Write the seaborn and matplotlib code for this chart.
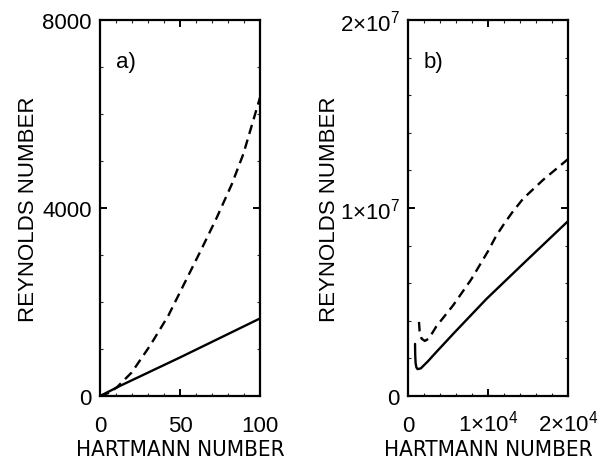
import matplotlib
matplotlib.use('Agg')
import matplotlib.pyplot as plt
from matplotlib import font_manager
from matplotlib.ticker import MultipleLocator
import pandas as pd
import seaborn as sns

# panel a) values
hart_a_solid = [0, 12.5, 50, 100]
reyn_a_solid = [0, 215, 820, 1650]
hart_a_dash = [0, 5, 10.4, 19.8, 31.25, 42.7, 53.1, 63.5, 72.9, 82.3, 89.6, 100]
reyn_a_dash = [0, 60, 180, 500, 1070, 1710, 2420, 3130, 3790, 4500, 5150, 6350]

# panel b)
hart_b_solid = [880, 900, 950, 1050, 1200, 1600, 2500, 3500, 5750, 9800, 14800, 20000]
reyn_b_solid = [2.77e6, 2.2e6, 1.75e6, 1.52e6, 1.43e6, 1.47e6, 1.85e6, 2.32e6, 3.35e6, 5.16e6, 7.2e6, 9.3e6]
hart_b_dash = [1375, 1450, 1700, 2100, 2600, 3540, 5600, 7900, 10000, 11000, 12000, 13000, 14400, 16900, 20000]
reyn_b_dash = [3.94e6, 3.45e6, 3.05e6, 2.93e6, 3.05e6, 3.7e6, 4.8e6, 6.2e6, 7.7e6, 8.5e6, 9.15e6, 9.75e6, 10.5e6, 11.5e6, 12.6e6]

xticks_a = [0, 50, 100]
yticks_a = [0, 4000, 8000]
xticks_b = [0, 1e4, 2e4]
xlabels_b = ['0', '1×10$^4$', '2×10$^4$']
yticks_b = [0, 1e7, 2e7]
ylabels_b = ['0', '1×10$^7$', '2×10$^7$']

sns.set_theme(style='ticks')
plt.rcParams['font.family'] = ['Liberation Sans', 'DejaVu Sans']
plt.rcParams['mathtext.fontset'] = 'custom'
plt.rcParams['mathtext.rm'] = 'Liberation Sans'
plt.rcParams['mathtext.it'] = 'Liberation Sans'
plt.rcParams['mathtext.bf'] = 'Liberation Sans'

FS = 16


def pick_narrow():
    """look for a condensed sans for the x label, else shrink a normal one"""
    found = []
    for f in font_manager.fontManager.ttflist:
        cond = ('Narrow' in f.name or 'Condensed' in f.name
                or str(f.stretch) in ('condensed', 'semi-condensed', '75', '87'))
        if cond and f.style == 'normal' and str(f.weight) in ('400', 'normal', 'regular', 'book'):
            found.append(f)
    for key in ('Liberation', 'DejaVu', ''):
        for f in found:
            if key in f.name:
                return font_manager.FontProperties(fname=f.fname, size=FS)
    return font_manager.FontProperties(family='Liberation Sans', size=13)


xlab_fp = pick_narrow()

fig = plt.figure(figsize=(6.06, 4.64), dpi=100)
ax_a = fig.add_axes([100 / 606, 1 - 397 / 464, 160 / 606, 376 / 464])
ax_b = fig.add_axes([408 / 606, 1 - 397 / 464, 160 / 606, 376 / 464])

df_a_s = pd.DataFrame({'H': hart_a_solid, 'R': reyn_a_solid})
df_a_d = pd.DataFrame({'H': hart_a_dash, 'R': reyn_a_dash})
df_b_s = pd.DataFrame({'H': hart_b_solid, 'R': reyn_b_solid})
df_b_d = pd.DataFrame({'H': hart_b_dash, 'R': reyn_b_dash})

for ax, ds, dd in [(ax_a, df_a_s, df_a_d), (ax_b, df_b_s, df_b_d)]:
    sns.lineplot(data=ds, x='H', y='R', ax=ax, color='black', lw=1.7,
                 sort=False, estimator=None)
    sns.lineplot(data=dd, x='H', y='R', ax=ax, color='black', lw=1.7,
                 sort=False, estimator=None, linestyle=(0, (4, 2.5)))

ax_a.set_xlim(0, 100)
ax_a.set_ylim(0, 8000)
ax_a.set_xticks(xticks_a)
ax_a.set_yticks(yticks_a)
ax_a.set_xticklabels([str(t) for t in xticks_a])
ax_a.set_yticklabels([str(t) for t in yticks_a])
ax_a.xaxis.set_minor_locator(MultipleLocator(10))
ax_a.yaxis.set_minor_locator(MultipleLocator(1000))

ax_b.set_xlim(0, 2e4)
ax_b.set_ylim(0, 2e7)
ax_b.set_xticks(xticks_b)
ax_b.set_yticks(yticks_b)
ax_b.set_xticklabels(xlabels_b)
ax_b.set_yticklabels(ylabels_b)
ax_b.xaxis.set_minor_locator(MultipleLocator(2000))
ax_b.yaxis.set_minor_locator(MultipleLocator(2e6))

for ax, tag, ylx in [(ax_a, 'a)', -0.38), (ax_b, 'b)', -0.425)]:
    for sp in ax.spines.values():
        sp.set_visible(True)
        sp.set_linewidth(1.6)
        sp.set_color('black')
    ax.tick_params(which='major', direction='in', length=5, width=1.4,
                   top=True, right=True, labelsize=FS, colors='black')
    # digits sit on a common baseline, superscripts stick up
    ax.tick_params(axis='x', which='major', pad=25)
    ax.tick_params(axis='y', which='major', pad=6)
    ax.tick_params(which='minor', direction='in', length=2, width=0.8,
                   top=True, right=True)
    for t in ax.get_xticklabels():
        t.set_va('baseline')
    ax.set_xlabel('HARTMANN NUMBER', fontproperties=xlab_fp, color='black')
    ax.set_ylabel('REYNOLDS NUMBER', fontsize=FS, color='black')
    ax.xaxis.set_label_coords(0.5, -0.115)
    ax.yaxis.set_label_coords(ylx, 0.5)
    ax.text(0.16, 0.89, tag, transform=ax.transAxes, fontsize=FS,
            ha='center', va='center', color='black')
    ax.grid(False)

fig.savefig('out.png', dpi=100, facecolor='white')
